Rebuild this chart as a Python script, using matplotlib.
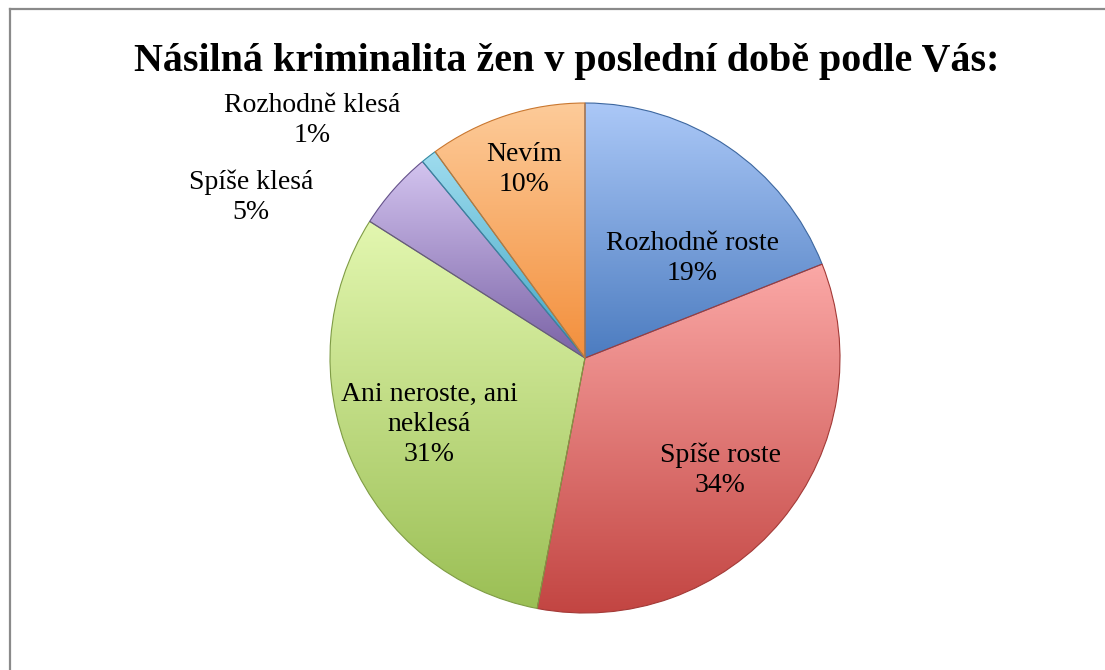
import matplotlib
matplotlib.use('Agg')
import matplotlib.pyplot as plt
import numpy as np
from matplotlib.colors import LinearSegmentedColormap
from matplotlib.lines import Line2D

title = 'Násilná kriminalita žen v poslední době podle Vás:'
labels = ['Rozhodně roste', 'Spíše roste', 'Ani neroste, ani\nneklesá',
          'Spíše klesá', 'Rozhodně klesá', 'Nevím']
values = [19, 34, 31, 5, 1, 10]

# (top, bottom) colours of the slice gradients
tops = ['#abc8f7', '#fba8a6', '#e3f7b0', '#d3c4ef', '#9fdcef', '#fdcb99']
bottoms = ['#4c7cc0', '#c24441', '#9bbf55', '#7a62a6', '#41a6c3', '#f38f3c']
edges = ['#3d679f', '#a33a37', '#7f9c45', '#64518a', '#358aa3', '#c9772f']

# label positions in pie units (radius 1)
label_pos = [(0.42, 0.39), (0.53, -0.44), (-0.61, -0.26),
             (-1.31, 0.63), (-1.07, 0.93), (-0.24, 0.74)]

plt.rcParams['font.family'] = ['Liberation Serif', 'DejaVu Serif']

fig = plt.figure(figsize=(11.05, 6.7), dpi=100)
fig.patch.set_facecolor('white')

# frame (cropped chart border: left and top only)
fig.add_artist(Line2D([10 / 1105, 10 / 1105], [0, 1 - 9 / 670], color='#8a8a8a', lw=1.6))
fig.add_artist(Line2D([10 / 1105, 1], [1 - 9 / 670, 1 - 9 / 670], color='#8a8a8a', lw=1.6))

cx, cy, r = 585, 358, 255
ax = fig.add_axes([(cx - r) / 1105, (670 - cy - r) / 670, 2 * r / 1105, 2 * r / 670])
wedges, _ = ax.pie(values, startangle=90, counterclock=False, radius=1.0,
                   wedgeprops=dict(linewidth=0.8))
ax.set_aspect('equal')
ax.axis('off')

grad = np.linspace(0, 1, 256).reshape(-1, 1)
for w, t, b, e in zip(wedges, tops, bottoms, edges):
    w.set_facecolor('none')
    w.set_edgecolor(e)
    verts = w.get_path().vertices
    x0, x1 = verts[:, 0].min(), verts[:, 0].max()
    y0, y1 = verts[:, 1].min(), verts[:, 1].max()
    cmap = LinearSegmentedColormap.from_list('g', [t, b])
    im = ax.imshow(grad, cmap=cmap, extent=[x0, x1, y0, y1], origin='upper',
                   aspect='auto', zorder=0.5)
    im.set_clip_path(w)
    w.set_zorder(1)

ax.set_xlim(-1.0, 1.0)
ax.set_ylim(-1.0, 1.0)

for lab, v, (lx, ly) in zip(labels, values, label_pos):
    ax.text(lx, ly, f'{lab}\n{v}%', ha='center', va='center', fontsize=20,
            linespacing=1.25, color='black', clip_on=False, zorder=3)

fig.text(567 / 1105, 1 - 61 / 670, title, ha='center', va='center',
         fontsize=28.8, fontweight='bold')

fig.savefig('out.png', dpi=100)
